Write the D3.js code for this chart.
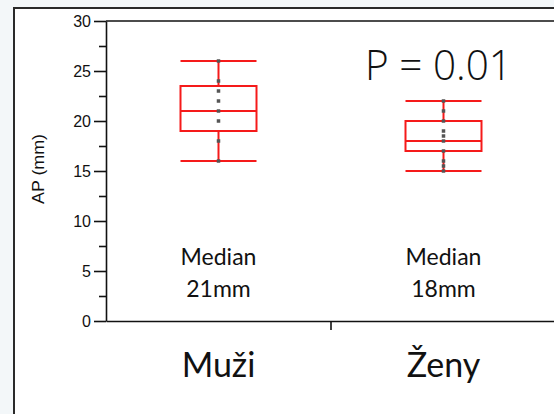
<!DOCTYPE html>
<html>
<head>
<meta charset="utf-8">
<script src="https://cdn.jsdelivr.net/npm/d3@7"></script>
<style>
  html, body { margin: 0; padding: 0; background: #f3f7f9; }
  svg { display: block; }
</style>
</head>
<body>
<svg id="chart" width="554" height="414"></svg>
<script>
// Groups and their box-plot summaries (AP in mm)
const groups = ["Muži", "Ženy"];
const whiskerLow = [16, 15];
const quartile1 = [19, 17];
const medians = [21, 18];
const quartile3 = [23.5, 20];
const whiskerHigh = [26, 22];
// Individual observations drawn along each box centre
const pointsMuzi = [26, 24, 23, 22, 21, 20, 18, 16];
const pointsZeny = [22, 21, 20, 19, 18.5, 18, 17, 16, 15.5, 15];
const medianLabels = ["21mm", "18mm"];
const yMajorTicks = [0, 5, 10, 15, 20, 25, 30];
const yMinorTicks = [2.5, 7.5, 12.5, 17.5, 22.5, 27.5];

const svg = d3.select("#chart");
const W = 554, H = 414;

// Slide frame
svg.append("rect").attr("x", 14).attr("y", 8).attr("width", W).attr("height", H)
  .attr("fill", "#ffffff");
svg.append("path").attr("d", `M14,${H} V8 H${W}`)
  .attr("fill", "none").attr("stroke", "#2a2a2a").attr("stroke-width", 2);

const x = d3.scaleBand().domain(groups).range([106, 556]);
const y = d3.scaleLinear().domain([0, 30]).range([321, 21]);

// Axes
const axisColor = "#111";
const gy = svg.append("g").attr("transform", "translate(106,0)")
  .call(d3.axisLeft(y).tickValues(yMajorTicks).tickSize(12).tickPadding(3).tickSizeOuter(0));
gy.selectAll("text").attr("font-family", "'Liberation Sans', Arial, sans-serif")
  .attr("font-size", 16).attr("fill", "#111").attr("dy", "0.36em");
const gyMinor = svg.append("g").attr("transform", "translate(106,0)")
  .call(d3.axisLeft(y).tickValues(yMinorTicks).tickSize(7).tickFormat(""));
gyMinor.select(".domain").remove();
[gy, gyMinor].forEach(g => {
  g.selectAll("line").attr("stroke", axisColor).attr("stroke-width", 1.6);
  g.selectAll(".domain").attr("stroke", axisColor).attr("stroke-width", 1.6);
});

// Category boundary ticks on the bottom axis
const gx = svg.append("g").attr("transform", "translate(0,321)")
  .call(d3.axisBottom(x).tickValues([]).tickSizeOuter(0));
gx.select(".domain").attr("stroke", axisColor).attr("stroke-width", 1.6);
const boundaries = groups.slice(1).map(g => x(g));
gx.selectAll(".bound").data(boundaries).enter().append("line")
  .attr("x1", d => d).attr("x2", d => d).attr("y1", 0).attr("y2", 9)
  .attr("stroke", axisColor).attr("stroke-width", 1.6);

// Plot frame top line
svg.append("line").attr("x1", 106).attr("x2", W).attr("y1", y(30)).attr("y2", y(30))
  .attr("stroke", axisColor).attr("stroke-width", 1.6);

// Y-axis title
svg.append("text")
  .attr("transform", "translate(44,169) rotate(-90)")
  .attr("text-anchor", "middle")
  .attr("font-family", "'Liberation Sans', Arial, sans-serif")
  .attr("font-size", 16)
  .attr("fill", "#111")
  .attr("textLength", 70).attr("lengthAdjust", "spacingAndGlyphs")
  .text("AP (mm)");

// Box plots
const red = "#f51a1a";
const boxW = 76;
const pointSets = [pointsMuzi, pointsZeny];
groups.forEach((g, i) => {
  const cx = x(g) + x.bandwidth() / 2;
  const bg = svg.append("g");
  // whisker stem
  bg.append("line").attr("x1", cx).attr("x2", cx)
    .attr("y1", y(whiskerLow[i])).attr("y2", y(whiskerHigh[i]))
    .attr("stroke", red).attr("stroke-width", 2);
  // caps
  [whiskerLow[i], whiskerHigh[i]].forEach(v => {
    bg.append("line").attr("x1", cx - boxW / 2).attr("x2", cx + boxW / 2)
      .attr("y1", y(v)).attr("y2", y(v))
      .attr("stroke", red).attr("stroke-width", 2);
  });
  // box
  bg.append("rect").attr("x", cx - boxW / 2).attr("y", y(quartile3[i]))
    .attr("width", boxW).attr("height", y(quartile1[i]) - y(quartile3[i]))
    .attr("fill", "#ffffff").attr("stroke", red).attr("stroke-width", 2);
  // median
  bg.append("line").attr("x1", cx - boxW / 2).attr("x2", cx + boxW / 2)
    .attr("y1", y(medians[i])).attr("y2", y(medians[i]))
    .attr("stroke", red).attr("stroke-width", 2);
  // observations
  bg.selectAll(".pt").data(pointSets[i]).enter().append("rect")
    .attr("x", cx - 1.75).attr("y", d => y(d) - 1.75)
    .attr("width", 3.5).attr("height", 3.5).attr("fill", "#555");

  // median annotation
  const t = svg.append("text")
    .attr("text-anchor", "middle")
    .attr("font-family", "Lato, 'Open Sans', sans-serif")
    .attr("font-size", 23).attr("fill", "#111");
  t.append("tspan").attr("x", cx).attr("y", 265).text("Median");
  t.append("tspan").attr("x", cx).attr("y", 297).text(medianLabels[i]);

  // category label
  svg.append("text").attr("x", cx).attr("y", 377).attr("text-anchor", "middle")
    .attr("font-family", "Lato, 'Open Sans', sans-serif")
    .attr("font-size", 34).attr("fill", "#111").text(g);
});

// Test result
svg.append("text").attr("x", 365).attr("y", 80)
  .attr("font-family", "'Open Sans', Lato, sans-serif")
  .attr("font-weight", 300)
  .attr("font-size", 42).attr("fill", "#111")
  .attr("textLength", 147).attr("lengthAdjust", "spacingAndGlyphs")
  .text("P = 0.01");
</script>
</body>
</html>
